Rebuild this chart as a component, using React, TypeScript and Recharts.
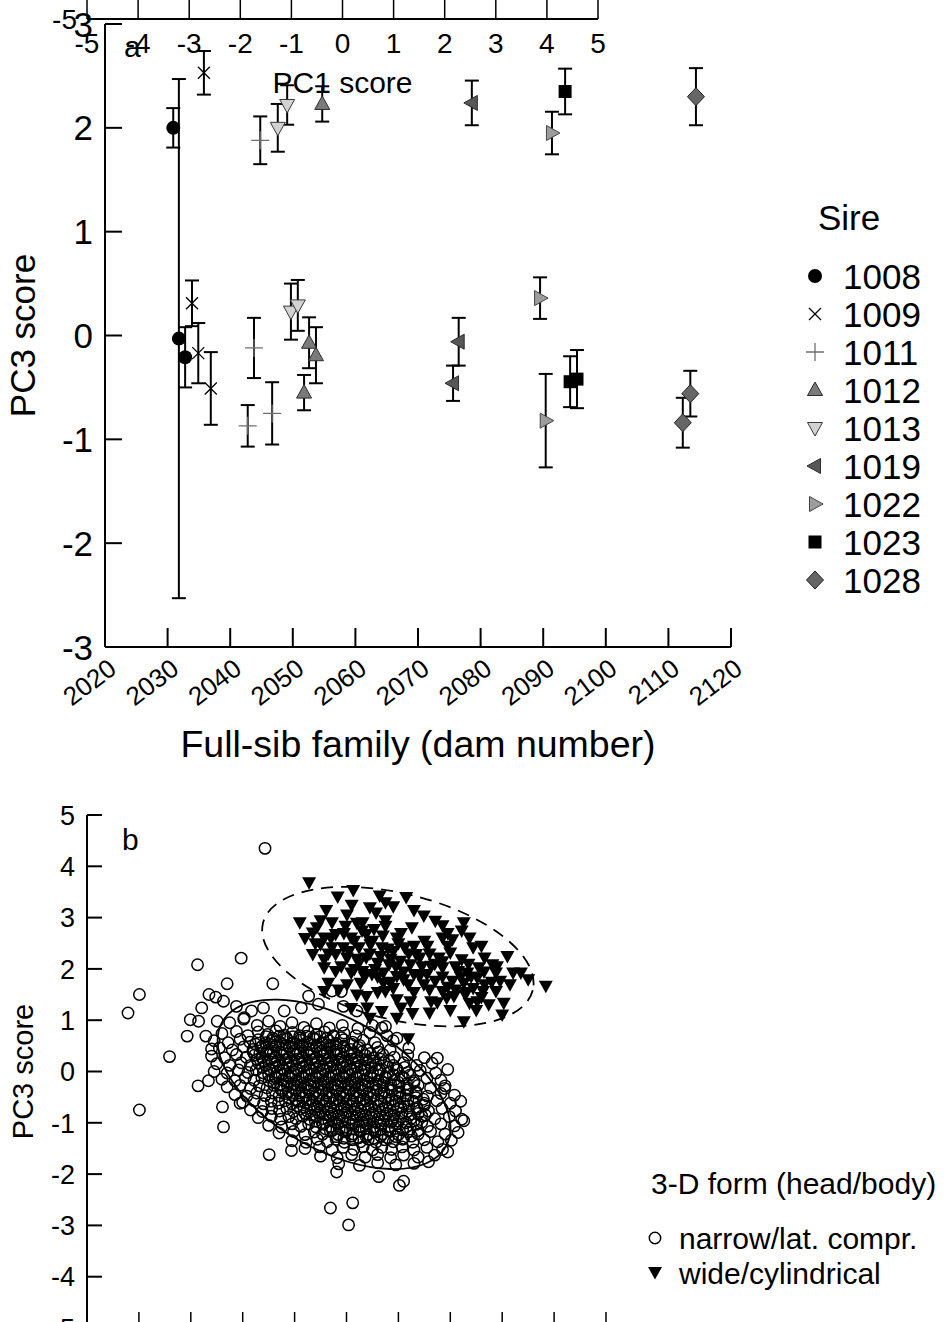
import React from 'react';
import { ScatterChart, Scatter, XAxis, YAxis, ErrorBar, ReferenceDot } from 'recharts';

const FONT = '"Liberation Sans", Arial, Helvetica, sans-serif';
const INK = '#000';

// ---------- panel a: full-sib family means (PC3) with error bars, by sire
const SIRES = ['1008', '1009', '1011', '1012', '1013', '1019', '1022', '1023', '1028'];
const SIRE_MARKS = ['dot', 'cross', 'plus', 'up', 'down', 'left', 'right', 'square', 'diamond'];

const DAM: number[][] = [
  [2030.9, 2031.8, 2032.8],
  [2035.8, 2033.9, 2034.9, 2036.9],
  [2044.8, 2043.8, 2042.8, 2046.7],
  [2054.7, 2052.6, 2053.7, 2051.8],
  [2049.1, 2047.6, 2049.7, 2050.8],
  [2078.6, 2076.5, 2075.6],
  [2091.4, 2089.5, 2090.4],
  [2093.5, 2094.3, 2095.4],
  [2114.4, 2113.5, 2112.3],
];
const PC3: number[][] = [
  [2.0, -0.03, -0.21],
  [2.53, 0.31, -0.17, -0.51],
  [1.88, -0.12, -0.87, -0.75],
  [2.23, -0.07, -0.19, -0.55],
  [2.22, 2.0, 0.23, 0.29],
  [2.24, -0.06, -0.46],
  [1.95, 0.36, -0.82],
  [2.35, -0.445, -0.42],
  [2.3, -0.56, -0.84],
];
const SE: number[][] = [
  [0.19, 2.5, 0.29],
  [0.21, 0.22, 0.29, 0.35],
  [0.23, 0.29, 0.2, 0.3],
  [0.17, 0.245, 0.27, 0.17],
  [0.19, 0.23, 0.27, 0.245],
  [0.215, 0.23, 0.17],
  [0.205, 0.2, 0.45],
  [0.22, 0.245, 0.28],
  [0.275, 0.22, 0.24],
];
const DAM_TICKS = [2020, 2030, 2040, 2050, 2060, 2070, 2080, 2090, 2100, 2110, 2120];
const PC3_TICKS_A = [-3, -2, -1, 0, 1, 2, 3];

// ---------- panel b: individuals, PC1 vs PC3, by 3-D form
const PC1_TICKS = [-5, -4, -3, -2, -1, 0, 1, 2, 3, 4, 5];
const PC3_TICKS_B = [-5, -4, -3, -2, -1, 0, 1, 2, 3, 4, 5];
const NARROW_CENTRE = [-0.24, -0.25];
const WIDE_CENTRE = [0.99, 2.24];

const NARROW_OUTER: [number, number][] = [
  [-1.57, 4.35], [-3.99, 1.5], [-4.21, 1.14], [-2.87, 2.08], [-2.03, 2.21], [-2.3, 1.71], [-1.42, 1.71],
  [-2.65, 1.5], [-2.52, 1.45], [-2.37, 1.37], [-2.12, 1.27], [-2.79, 1.24], [-3.01, 1.01], [-2.85, 0.98],
  [-3.07, 0.69], [-2.71, 0.69], [-2.49, 0.98], [-0.73, 1.47], [-0.54, 1.31], [-0.28, 1.57], [-0.1, 1.56],
  [-0.06, 1.27], [0.2, 1.18], [0.68, 0.85], [0.75, 0.88], [0.97, 0.65], [-1.97, 1.05], [-1.83, 1.18],
  [-1.6, 1.24], [-1.2, 1.18], [-0.87, 1.24], [-3.41, 0.29], [-3.99, -0.75], [-2.86, -0.28], [-2.66, -0.18],
  [-2.6, 0.44], [-2.39, -0.69], [-2.37, -1.08], [-2.05, -0.62], [-1.49, -1.62], [-1.06, -1.54], [-0.19, -1.96],
  [-0.31, -2.66], [0.12, -2.56], [0.04, -2.99], [0.62, -2.05], [1.02, -2.22], [1.1, -2.14], [1.75, 0.26],
  [2.26, -0.96], [1.95, -1.57], [1.89, -0.33],
];

const NARROW_CORE: [number, number][] = [
  [-2.25, 0.95], [-1.98, 1.02], [-1.72, 0.9], [-1.5, 0.98], [-1.28, 0.88], [-1.05, 0.95], [-0.82, 0.86], [-0.58, 0.93], [-0.33, 0.85], [-0.08, 0.9], [0.22, 0.84], [0.5, 0.9],
  [-2.4, 0.74], [-2.12, 0.78], [-1.9, 0.7], [-1.7, 0.77], [-1.52, 0.72], [-1.36, 0.79], [-1.2, 0.71], [-1.04, 0.76], [-0.9, 0.7], [-0.74, 0.78], [-0.58, 0.72], [-0.42, 0.77], [-0.25, 0.7], [-0.05, 0.75], [0.18, 0.7], [0.45, 0.76], [0.78, 0.7],
  [-2.55, 0.6], [-2.28, 0.56], [-2.05, 0.63], [-1.86, 0.57], [-1.7, 0.62], [-1.56, 0.56], [-1.42, 0.61], [-1.28, 0.57], [-1.15, 0.63], [-1.02, 0.56], [-0.89, 0.61], [-0.76, 0.57], [-0.62, 0.63], [-0.48, 0.56], [-0.34, 0.6], [-0.2, 0.55], [-0.05, 0.62], [0.12, 0.57], [0.32, 0.61], [0.55, 0.56], [0.9, 0.6],
  [-2.45, 0.46], [-2.2, 0.42], [-1.98, 0.48], [-1.8, 0.43], [-1.65, 0.47], [-1.51, 0.42], [-1.37, 0.48], [-1.24, 0.43], [-1.11, 0.47], [-0.98, 0.42], [-0.85, 0.48], [-0.72, 0.43], [-0.59, 0.47], [-0.46, 0.41], [-0.33, 0.46], [-0.2, 0.42], [-0.06, 0.48], [0.08, 0.43], [0.23, 0.47], [0.4, 0.42], [0.6, 0.47], [0.84, 0.42], [1.2, 0.46],
  [-2.6, 0.3], [-2.35, 0.27], [-2.12, 0.33], [-1.93, 0.28], [-1.77, 0.32], [-1.63, 0.27], [-1.5, 0.33], [-1.37, 0.28], [-1.24, 0.32], [-1.11, 0.27], [-0.98, 0.33], [-0.85, 0.28], [-0.72, 0.32], [-0.59, 0.26], [-0.46, 0.31], [-0.33, 0.27], [-0.2, 0.33], [-0.07, 0.28], [0.07, 0.32], [0.21, 0.27], [0.36, 0.32], [0.52, 0.27], [0.7, 0.33], [0.92, 0.28], [1.18, 0.32], [1.5, 0.27],
  [-2.5, 0.15], [-2.25, 0.12], [-2.03, 0.17], [-1.85, 0.12], [-1.7, 0.17], [-1.56, 0.12], [-1.43, 0.18], [-1.3, 0.13], [-1.17, 0.17], [-1.04, 0.12], [-0.91, 0.18], [-0.78, 0.13], [-0.65, 0.17], [-0.52, 0.11], [-0.39, 0.16], [-0.26, 0.12], [-0.13, 0.18], [0.0, 0.13], [0.14, 0.17], [0.28, 0.12], [0.42, 0.18], [0.57, 0.13], [0.73, 0.17], [0.9, 0.12], [1.1, 0.17], [1.35, 0.12], [1.65, 0.16],
  [-2.55, 0.0], [-2.3, -0.03], [-2.08, 0.03], [-1.9, -0.02], [-1.74, 0.03], [-1.6, -0.03], [-1.47, 0.02], [-1.34, -0.02], [-1.21, 0.03], [-1.08, -0.03], [-0.95, 0.02], [-0.82, -0.02], [-0.69, 0.03], [-0.56, -0.03], [-0.43, 0.02], [-0.3, -0.02], [-0.17, 0.03], [-0.04, -0.03], [0.09, 0.02], [0.22, -0.02], [0.36, 0.03], [0.5, -0.03], [0.65, 0.02], [0.81, -0.02], [0.98, 0.03], [1.18, -0.02], [1.42, 0.02], [1.72, -0.03], [1.95, 0.04],
  [-2.4, -0.15], [-2.15, -0.18], [-1.95, -0.12], [-1.78, -0.17], [-1.63, -0.12], [-1.49, -0.18], [-1.36, -0.13], [-1.23, -0.17], [-1.1, -0.12], [-0.97, -0.18], [-0.84, -0.13], [-0.71, -0.17], [-0.58, -0.12], [-0.45, -0.18], [-0.32, -0.13], [-0.19, -0.17], [-0.06, -0.12], [0.07, -0.18], [0.2, -0.13], [0.33, -0.17], [0.47, -0.12], [0.61, -0.18], [0.76, -0.13], [0.92, -0.17], [1.1, -0.12], [1.3, -0.18], [1.55, -0.13], [1.82, -0.17],
  [-2.3, -0.3], [-2.05, -0.27], [-1.85, -0.33], [-1.68, -0.28], [-1.53, -0.32], [-1.4, -0.27], [-1.27, -0.33], [-1.14, -0.28], [-1.01, -0.32], [-0.88, -0.27], [-0.75, -0.33], [-0.62, -0.28], [-0.49, -0.32], [-0.36, -0.27], [-0.23, -0.33], [-0.1, -0.28], [0.03, -0.32], [0.16, -0.27], [0.29, -0.33], [0.42, -0.28], [0.56, -0.32], [0.7, -0.27], [0.85, -0.33], [1.01, -0.28], [1.18, -0.32], [1.38, -0.27], [1.62, -0.32], [1.9, -0.28],
  [-2.15, -0.45], [-1.92, -0.48], [-1.73, -0.42], [-1.57, -0.47], [-1.43, -0.42], [-1.3, -0.48], [-1.17, -0.43], [-1.04, -0.47], [-0.91, -0.42], [-0.78, -0.48], [-0.65, -0.43], [-0.52, -0.47], [-0.39, -0.42], [-0.26, -0.48], [-0.13, -0.43], [0.0, -0.47], [0.13, -0.42], [0.26, -0.48], [0.39, -0.43], [0.53, -0.47], [0.67, -0.42], [0.82, -0.48], [0.98, -0.43], [1.15, -0.47], [1.34, -0.42], [1.56, -0.48], [1.82, -0.43], [2.08, -0.46],
  [-2.0, -0.6], [-1.78, -0.57], [-1.6, -0.63], [-1.45, -0.58], [-1.31, -0.62], [-1.18, -0.57], [-1.05, -0.63], [-0.92, -0.58], [-0.79, -0.62], [-0.66, -0.57], [-0.53, -0.63], [-0.4, -0.58], [-0.27, -0.62], [-0.14, -0.57], [-0.01, -0.63], [0.12, -0.58], [0.25, -0.62], [0.38, -0.57], [0.52, -0.63], [0.66, -0.58], [0.8, -0.62], [0.95, -0.57], [1.11, -0.63], [1.29, -0.58], [1.5, -0.62], [1.74, -0.57], [2.0, -0.62], [2.2, -0.58],
  [-1.85, -0.75], [-1.62, -0.78], [-1.44, -0.72], [-1.29, -0.77], [-1.15, -0.72], [-1.02, -0.78], [-0.89, -0.73], [-0.76, -0.77], [-0.63, -0.72], [-0.5, -0.78], [-0.37, -0.73], [-0.24, -0.77], [-0.11, -0.72], [0.02, -0.78], [0.15, -0.73], [0.28, -0.77], [0.42, -0.72], [0.56, -0.78], [0.7, -0.73], [0.85, -0.77], [1.0, -0.72], [1.17, -0.78], [1.36, -0.73], [1.58, -0.77], [1.84, -0.72], [2.1, -0.77],
  [-1.7, -0.9], [-1.45, -0.87], [-1.27, -0.93], [-1.11, -0.88], [-0.97, -0.92], [-0.84, -0.87], [-0.71, -0.93], [-0.58, -0.88], [-0.45, -0.92], [-0.32, -0.87], [-0.19, -0.93], [-0.06, -0.88], [0.07, -0.92], [0.2, -0.87], [0.33, -0.93], [0.47, -0.88], [0.61, -0.92], [0.75, -0.87], [0.9, -0.93], [1.06, -0.88], [1.24, -0.92], [1.45, -0.87], [1.7, -0.92], [1.98, -0.88], [2.22, -0.93],
  [-1.5, -1.05], [-1.25, -1.08], [-1.05, -1.02], [-0.88, -1.07], [-0.73, -1.02], [-0.59, -1.08], [-0.45, -1.03], [-0.31, -1.07], [-0.17, -1.02], [-0.03, -1.08], [0.11, -1.03], [0.25, -1.07], [0.39, -1.02], [0.53, -1.08], [0.67, -1.03], [0.82, -1.07], [0.98, -1.02], [1.15, -1.08], [1.34, -1.03], [1.56, -1.07], [1.82, -1.02], [2.08, -1.06],
  [-1.3, -1.2], [-1.02, -1.17], [-0.8, -1.23], [-0.62, -1.18], [-0.46, -1.22], [-0.31, -1.17], [-0.16, -1.23], [-0.01, -1.18], [0.13, -1.22], [0.27, -1.17], [0.41, -1.23], [0.55, -1.18], [0.69, -1.22], [0.84, -1.17], [1.0, -1.23], [1.18, -1.18], [1.38, -1.22], [1.62, -1.17], [1.9, -1.22], [2.15, -1.19],
  [-1.05, -1.35], [-0.78, -1.38], [-0.56, -1.32], [-0.37, -1.37], [-0.2, -1.32], [-0.04, -1.38], [0.12, -1.33], [0.27, -1.37], [0.42, -1.32], [0.57, -1.38], [0.73, -1.33], [0.9, -1.37], [1.08, -1.32], [1.28, -1.38], [1.5, -1.33], [1.76, -1.37], [2.02, -1.34],
  [-0.8, -1.5], [-0.52, -1.47], [-0.28, -1.53], [-0.06, -1.48], [0.14, -1.52], [0.32, -1.47], [0.5, -1.53], [0.68, -1.48], [0.87, -1.52], [1.07, -1.47], [1.3, -1.53], [1.55, -1.48], [1.85, -1.52],
  [-0.5, -1.65], [-0.18, -1.68], [0.1, -1.62], [0.36, -1.67], [0.6, -1.62], [0.85, -1.68], [1.1, -1.63], [1.38, -1.67], [1.7, -1.63],
  [-0.15, -1.8], [0.25, -1.83], [0.6, -1.78], [0.95, -1.82], [1.3, -1.79], [1.58, -1.76],
];

// the darkest part of the cloud, where the circles pile up
const NARROW_DENSE: [number, number][] = [
  [-1.55, 0.68], [-1.42, 0.65], [-1.29, 0.69], [-1.16, 0.66], [-1.03, 0.68], [-0.9, 0.65], [-0.77, 0.69], [-0.64, 0.66], [-0.51, 0.68], [-0.38, 0.65], [-0.25, 0.68], [-0.1, 0.66],
  [-1.75, 0.53], [-1.62, 0.5], [-1.49, 0.54], [-1.36, 0.51], [-1.23, 0.53], [-1.1, 0.5], [-0.97, 0.54], [-0.84, 0.51], [-0.71, 0.53], [-0.58, 0.5], [-0.45, 0.54], [-0.32, 0.51], [-0.19, 0.53], [-0.05, 0.5], [0.1, 0.53], [0.25, 0.51],
  [-1.8, 0.38], [-1.67, 0.35], [-1.54, 0.39], [-1.41, 0.36], [-1.28, 0.38], [-1.15, 0.35], [-1.02, 0.39], [-0.89, 0.36], [-0.76, 0.38], [-0.63, 0.35], [-0.5, 0.39], [-0.37, 0.36], [-0.24, 0.38], [-0.11, 0.35], [0.02, 0.39], [0.15, 0.36], [0.3, 0.38], [0.46, 0.35], [0.62, 0.38],
  [-1.72, 0.23], [-1.59, 0.2], [-1.46, 0.24], [-1.33, 0.21], [-1.2, 0.23], [-1.07, 0.2], [-0.94, 0.24], [-0.81, 0.21], [-0.68, 0.23], [-0.55, 0.2], [-0.42, 0.24], [-0.29, 0.21], [-0.16, 0.23], [-0.03, 0.2], [0.1, 0.24], [0.23, 0.21], [0.37, 0.23], [0.51, 0.2], [0.66, 0.24], [0.82, 0.21],
  [-1.62, 0.08], [-1.49, 0.05], [-1.36, 0.09], [-1.23, 0.06], [-1.1, 0.08], [-0.97, 0.05], [-0.84, 0.09], [-0.71, 0.06], [-0.58, 0.08], [-0.45, 0.05], [-0.32, 0.09], [-0.19, 0.06], [-0.06, 0.08], [0.07, 0.05], [0.2, 0.09], [0.34, 0.06], [0.48, 0.08], [0.63, 0.05], [0.79, 0.09], [0.96, 0.06], [1.12, 0.08],
  [-1.5, -0.07], [-1.37, -0.1], [-1.24, -0.06], [-1.11, -0.09], [-0.98, -0.07], [-0.85, -0.1], [-0.72, -0.06], [-0.59, -0.09], [-0.46, -0.07], [-0.33, -0.1], [-0.2, -0.06], [-0.07, -0.09], [0.06, -0.07], [0.19, -0.1], [0.32, -0.06], [0.46, -0.09], [0.6, -0.07], [0.75, -0.1], [0.9, -0.06], [1.06, -0.09], [1.22, -0.07],
  [-1.4, -0.22], [-1.27, -0.25], [-1.14, -0.21], [-1.01, -0.24], [-0.88, -0.22], [-0.75, -0.25], [-0.62, -0.21], [-0.49, -0.24], [-0.36, -0.22], [-0.23, -0.25], [-0.1, -0.21], [0.03, -0.24], [0.16, -0.22], [0.29, -0.25], [0.42, -0.21], [0.56, -0.24], [0.7, -0.22], [0.85, -0.25], [1.0, -0.21], [1.16, -0.24], [1.3, -0.22],
  [-1.25, -0.37], [-1.12, -0.4], [-0.99, -0.36], [-0.86, -0.39], [-0.73, -0.37], [-0.6, -0.4], [-0.47, -0.36], [-0.34, -0.39], [-0.21, -0.37], [-0.08, -0.4], [0.05, -0.36], [0.18, -0.39], [0.31, -0.37], [0.44, -0.4], [0.58, -0.36], [0.72, -0.39], [0.87, -0.37], [1.02, -0.4], [1.18, -0.36], [1.34, -0.39],
  [-1.1, -0.52], [-0.97, -0.55], [-0.84, -0.51], [-0.71, -0.54], [-0.58, -0.52], [-0.45, -0.55], [-0.32, -0.51], [-0.19, -0.54], [-0.06, -0.52], [0.07, -0.55], [0.2, -0.51], [0.33, -0.54], [0.46, -0.52], [0.6, -0.55], [0.74, -0.51], [0.88, -0.54], [1.03, -0.52], [1.18, -0.55], [1.34, -0.51], [1.48, -0.54],
  [-0.95, -0.67], [-0.82, -0.7], [-0.69, -0.66], [-0.56, -0.69], [-0.43, -0.67], [-0.3, -0.7], [-0.17, -0.66], [-0.04, -0.69], [0.09, -0.67], [0.22, -0.7], [0.35, -0.66], [0.48, -0.69], [0.62, -0.67], [0.76, -0.7], [0.9, -0.66], [1.05, -0.69], [1.2, -0.67], [1.36, -0.7], [1.5, -0.66],
  [-0.8, -0.82], [-0.67, -0.85], [-0.54, -0.81], [-0.41, -0.84], [-0.28, -0.82], [-0.15, -0.85], [-0.02, -0.81], [0.11, -0.84], [0.24, -0.82], [0.37, -0.85], [0.5, -0.81], [0.64, -0.84], [0.78, -0.82], [0.92, -0.85], [1.07, -0.81], [1.22, -0.84], [1.38, -0.82], [1.52, -0.85],
  [-0.6, -0.97], [-0.47, -1.0], [-0.34, -0.96], [-0.21, -0.99], [-0.08, -0.97], [0.05, -1.0], [0.18, -0.96], [0.31, -0.99], [0.44, -0.97], [0.58, -1.0], [0.72, -0.96], [0.86, -0.99], [1.0, -0.97], [1.15, -1.0], [1.3, -0.96], [1.45, -0.99],
  [-0.4, -1.12], [-0.27, -1.15], [-0.14, -1.11], [-0.01, -1.14], [0.12, -1.12], [0.25, -1.15], [0.38, -1.11], [0.52, -1.14], [0.66, -1.12], [0.8, -1.15], [0.94, -1.11], [1.08, -1.14], [1.23, -1.12], [1.38, -1.15],
  [-0.2, -1.27], [-0.05, -1.3], [0.1, -1.26], [0.24, -1.29], [0.38, -1.27], [0.52, -1.3], [0.66, -1.26], [0.8, -1.29], [0.95, -1.27], [1.1, -1.3], [1.25, -1.26],
];

const WIDE: [number, number][] = [
  [-0.72, 3.69], [0.13, 3.54], [-0.17, 3.41], [0.64, 3.43], [1.15, 3.4], [0.9, 3.22], [-0.39, 3.15], [0.01, 3.06],
  [0.57, 3.1], [1.49, 3.04], [1.71, 2.94], [2.26, 2.91], [-0.9, 2.91], [-0.57, 2.81], [-0.28, 2.91], [-0.02, 2.84],
  [0.31, 2.91], [0.53, 2.78], [0.75, 2.84], [1.26, 2.81], [1.85, 2.61], [2.04, 2.58], [2.22, 2.75], [2.37, 2.61],
  [-0.65, 2.71], [-0.43, 2.61], [-0.21, 2.68], [0.09, 2.61], [0.38, 2.68], [0.97, 2.61], [1.56, 2.45], [2.44, 2.42],
  [2.66, 2.22], [3.1, 2.25], [2.81, 2.09], [3.21, 1.93], [3.36, 1.93], [3.84, 1.67], [-0.5, 2.48], [-0.28, 2.42],
  [-0.06, 2.42], [0.24, 2.42], [0.46, 2.48], [0.68, 2.42], [0.9, 2.35], [1.12, 2.42], [1.34, 2.29], [1.41, 2.22],
  [1.78, 2.22], [2.0, 2.32], [2.22, 2.19], [2.55, 2.03], [2.88, 1.93], [2.96, 1.77], [-0.65, 2.29], [-0.43, 2.19],
  [-0.21, 2.29], [0.01, 2.22], [0.24, 2.12], [0.38, 2.22], [0.6, 2.12], [0.82, 2.09], [1.04, 2.16], [1.23, 2.09],
  [1.63, 2.06], [1.85, 2.03], [2.15, 1.96], [2.33, 1.93], [2.52, 1.83], [2.66, 1.7], [-0.43, 2.03], [-0.21, 1.96],
  [0.09, 1.93], [0.31, 1.96], [0.49, 1.9], [0.71, 1.93], [0.97, 1.86], [1.41, 1.86], [1.71, 1.77], [2.04, 1.77],
  [2.26, 1.73], [2.44, 1.63], [2.63, 1.57], [2.88, 1.57], [-0.35, 1.73], [0.01, 1.7], [0.27, 1.73], [0.71, 1.73],
  [0.9, 1.63], [1.19, 1.7], [1.49, 1.7], [1.85, 1.57], [2.07, 1.47], [2.29, 1.5], [2.52, 1.37], [2.74, 1.31],
  [3.03, 1.34], [3.0, 1.11], [-0.43, 1.57], [0.2, 1.5], [0.38, 1.47], [0.75, 1.57], [0.97, 1.41], [1.23, 1.37],
  [1.63, 1.37], [1.93, 1.44], [2.37, 1.34], [1.27, 1.14], [2.26, 0.98], [0.68, 1.18], [0.97, 1.05], [1.19, 0.65],
  [0.09, 1.24], [0.15, 2.55], [0.45, 2.3], [0.7, 2.65], [1.0, 2.5], [1.2, 2.3], [0.55, 2.0], [-0.1, 2.05],
  [0.3, 2.75], [-0.35, 2.3], [0.85, 2.2], [1.5, 2.55], [1.7, 2.1], [1.95, 2.45], [2.1, 1.6], [2.4, 1.85],
  [2.65, 1.95], [1.3, 1.55], [0.6, 1.55], [-0.15, 1.6], [0.4, 1.25], [2.0, 1.2], [2.5, 1.2], [1.6, 1.15],
  [0.2, 2.9], [-0.6, 2.5], [1.85, 2.85], [2.8, 1.75], [0.05, 2.35], [1.1, 1.95], [0.75, 2.95],
  [-0.05, 2.7], [0.2, 2.2], [0.5, 2.55], [0.8, 2.4], [1.05, 2.7], [1.3, 2.45], [1.6, 2.3], [1.85, 2.15],
  [2.1, 2.05], [2.35, 2.1], [0.35, 1.85], [0.6, 1.85], [0.85, 1.75], [1.1, 1.8], [1.3, 1.9], [1.55, 1.9],
  [1.85, 1.85], [2.2, 1.85], [0.15, 2.0], [0.65, 2.25], [0.95, 2.05], [1.45, 2.05], [1.6, 1.6], [1.95, 1.65],
  [2.3, 1.55], [2.6, 1.45], [-0.5, 2.95], [0.45, 3.2], [1.3, 3.15], [-0.3, 2.6], [-0.8, 2.6], [0.1, 3.25],
  [0.75, 3.3], [1.95, 2.7], [2.6, 2.45], [2.9, 2.05], [3.15, 1.7], [3.5, 1.8], [1.05, 1.25], [0.45, 1.05],
  [1.75, 1.35],
];

const toXY = (pts: [number, number][]) => pts.map(([x, y]) => ({ x, y }));

function Marker({ kind, cx, cy }: { kind: string; cx: number; cy: number }) {
  switch (kind) {
    case 'dot':
      return <circle cx={cx} cy={cy} r={7} fill={INK} />;
    case 'cross':
      return <path d={`M${cx - 6},${cy - 6}L${cx + 6},${cy + 6}M${cx - 6},${cy + 6}L${cx + 6},${cy - 6}`} stroke={INK} strokeWidth={1.3} />;
    case 'plus':
      return <path d={`M${cx - 9},${cy}H${cx + 9}M${cx},${cy - 9}V${cy + 9}`} stroke="#6f6f6f" strokeWidth={1.3} />;
    case 'up':
      return <polygon points={`${cx},${cy - 8} ${cx + 7.5},${cy + 5.5} ${cx - 7.5},${cy + 5.5}`} fill="#7a7a7a" stroke="#2b2b2b" strokeWidth={1} />;
    case 'down':
      return <polygon points={`${cx - 7.5},${cy - 5.5} ${cx + 7.5},${cy - 5.5} ${cx},${cy + 8}`} fill="#d2d2d2" stroke="#3a3a3a" strokeWidth={1} />;
    case 'left':
      return <polygon points={`${cx - 8},${cy} ${cx + 5.5},${cy - 7.5} ${cx + 5.5},${cy + 7.5}`} fill="#575757" stroke="#2b2b2b" strokeWidth={1} />;
    case 'right':
      return <polygon points={`${cx + 8},${cy} ${cx - 5.5},${cy - 7.5} ${cx - 5.5},${cy + 7.5}`} fill="#9c9c9c" stroke="#444" strokeWidth={1} />;
    case 'square':
      return <rect x={cx - 6.5} y={cy - 6.5} width={13} height={13} fill={INK} />;
    case 'diamond':
      return <polygon points={`${cx},${cy - 9} ${cx + 8.5},${cy} ${cx},${cy + 9} ${cx - 8.5},${cy}`} fill="#666" stroke="#222" strokeWidth={1} />;
    case 'ring':
      return <circle cx={cx} cy={cy} r={5.7} fill="none" stroke={INK} strokeWidth={1.5} />;
    case 'tri':
      return <polygon points={`${cx - 7},${cy - 5} ${cx + 7},${cy - 5} ${cx},${cy + 7.5}`} fill={INK} />;
    default:
      return null;
  }
}

// y ticks pointing into the plot, label on the left
const leftTick = (len: number, gap: number, size: number, showLine = true) => (p: any) => (
  <g>
    {showLine && <line x1={p.x} x2={p.x + len} y1={p.y} y2={p.y} stroke={INK} strokeWidth={2} />}
    <text x={p.x - gap} y={p.y} dy="0.36em" textAnchor="end" fontSize={size} fontFamily={FONT} fill={INK}>
      {p.payload.value}
    </text>
  </g>
);

const damTick = (p: any) => (
  <g>
    <line x1={p.x} x2={p.x} y1={p.y} y2={p.y - 19} stroke={INK} strokeWidth={2} />
    <text transform={`translate(${p.x + 13},${p.y + 25}) rotate(-37)`} textAnchor="end" fontSize={26} fontFamily={FONT} fill={INK}>
      {p.payload.value}
    </text>
  </g>
);

const upTick = (len: number) => (p: any) => (
  <line x1={p.x} x2={p.x} y1={p.y} y2={p.y - len} stroke={INK} strokeWidth={1.5} />
);

const topTick = (p: any) => (
  <g>
    <line x1={p.x} x2={p.x} y1={p.y} y2={p.y - 19} stroke={INK} strokeWidth={1.5} />
    <text x={p.x} y={p.y + 34} textAnchor="middle" fontSize={28} fontFamily={FONT} fill={INK}>
      {p.payload.value}
    </text>
  </g>
);

const ellipseShape = (rx: number, ry: number, angle: number, dash?: string) => (p: any) => (
  <ellipse
    cx={p.cx}
    cy={p.cy}
    rx={rx}
    ry={ry}
    transform={`rotate(${angle} ${p.cx} ${p.cy})`}
    fill="none"
    stroke={INK}
    strokeWidth={1.8}
    strokeDasharray={dash}
  />
);

const axisLine = { stroke: INK, strokeWidth: 2 };

const PanelA = () => {
  const series = SIRES.map((_, i) =>
    DAM[i].map((d, j) => ({ dam: d, pc3: PC3[i][j], se: SE[i][j] }))
  );
  return (
    <ScatterChart width={944} height={780} margin={{ top: 24, right: 213, bottom: 0, left: 0 }}>
      <XAxis
        type="number"
        dataKey="dam"
        domain={[2020, 2120]}
        ticks={DAM_TICKS}
        interval={0}
        allowDataOverflow
        height={133}
        tickSize={0}
        tickMargin={0}
        tickLine={false}
        tick={damTick}
        axisLine={axisLine}
        label={(p: any) => (
          <text x={p.viewBox.x + p.viewBox.width / 2} y={p.viewBox.y + 110} textAnchor="middle" fontSize={37.5} fontFamily={FONT} fill={INK}>
            Full-sib family (dam number)
          </text>
        )}
      />
      <YAxis
        type="number"
        dataKey="pc3"
        domain={[-3, 3]}
        ticks={PC3_TICKS_A}
        interval={0}
        allowDataOverflow
        width={105}
        tickSize={0}
        tickMargin={0}
        tickLine={false}
        tick={leftTick(17, 12, 35)}
        axisLine={axisLine}
        label={(p: any) => (
          <text transform={`translate(35,${p.viewBox.y + p.viewBox.height / 2}) rotate(-90)`} textAnchor="middle" fontSize={35} fontFamily={FONT} fill={INK}>
            PC3 score
          </text>
        )}
      />
      {series.map((data, i) => (
        <Scatter
          key={SIRES[i]}
          name={SIRES[i]}
          data={data}
          isAnimationActive={false}
          shape={(p: any) => <Marker kind={SIRE_MARKS[i]} cx={p.cx} cy={p.cy} />}
        >
          <ErrorBar dataKey="se" direction="y" width={7} stroke={INK} strokeWidth={2} />
        </Scatter>
      ))}
    </ScatterChart>
  );
};

// the PC1 axis of panel b, which sits at the very top of the figure
const Pc1Strip = () => (
  <ScatterChart width={944} height={120} margin={{ top: 0, right: 346, bottom: 0, left: 0 }}>
    <XAxis
      type="number"
      dataKey="x"
      domain={[-5, 5]}
      ticks={PC1_TICKS}
      interval={0}
      allowDataOverflow
      height={101}
      tickSize={0}
      tickMargin={0}
      tickLine={false}
      tick={topTick}
      axisLine={axisLine}
      label={(p: any) => (
        <text x={p.viewBox.x + p.viewBox.width / 2} y={p.viewBox.y + 74} textAnchor="middle" fontSize={30} fontFamily={FONT} fill={INK}>
          PC1 score
        </text>
      )}
    />
    <YAxis
      type="number"
      dataKey="y"
      domain={[-5, -4.6]}
      ticks={[-5]}
      allowDataOverflow
      width={87}
      tickSize={0}
      tickMargin={0}
      tickLine={false}
      axisLine={false}
      tick={leftTick(0, 10, 28, false)}
    />
    <Scatter data={[]} isAnimationActive={false} />
  </ScatterChart>
);

const PanelB = () => (
  <ScatterChart width={944} height={588} margin={{ top: 35, right: 338, bottom: 0, left: 0 }}>
    <XAxis
      type="number"
      dataKey="x"
      domain={[-5, 5]}
      ticks={PC1_TICKS}
      interval={0}
      allowDataOverflow
      height={40}
      tickSize={0}
      tickMargin={0}
      tickLine={false}
      tick={upTick(16)}
      axisLine={axisLine}
    />
    <YAxis
      type="number"
      dataKey="y"
      domain={[-5, 5]}
      ticks={PC3_TICKS_B}
      interval={0}
      allowDataOverflow
      width={87}
      tickSize={0}
      tickMargin={0}
      tickLine={false}
      tick={leftTick(15, 12, 27)}
      axisLine={axisLine}
      label={(p: any) => (
        <text transform={`translate(33,${p.viewBox.y + p.viewBox.height / 2}) rotate(-90)`} textAnchor="middle" fontSize={29} fontFamily={FONT} fill={INK}>
          PC3 score
        </text>
      )}
    />
    <Scatter name="narrow/lat. compr." data={toXY(NARROW_OUTER)} isAnimationActive={false} shape={(p: any) => <Marker kind="ring" cx={p.cx} cy={p.cy} />} />
    <Scatter data={toXY(NARROW_CORE)} isAnimationActive={false} shape={(p: any) => <Marker kind="ring" cx={p.cx} cy={p.cy} />} />
    <Scatter data={toXY(NARROW_DENSE)} isAnimationActive={false} shape={(p: any) => <Marker kind="ring" cx={p.cx} cy={p.cy} />} />
    <Scatter name="wide/cylindrical" data={toXY(WIDE)} isAnimationActive={false} shape={(p: any) => <Marker kind="tri" cx={p.cx} cy={p.cy} />} />
    <ReferenceDot x={NARROW_CENTRE[0]} y={NARROW_CENTRE[1]} shape={ellipseShape(128, 66, 29)} />
    <ReferenceDot x={WIDE_CENTRE[0]} y={WIDE_CENTRE[1]} shape={ellipseShape(139, 63, 14, '12 8')} />
  </ScatterChart>
);

const Legends = () => (
  <svg width={944} height={1322} style={{ position: 'absolute', left: 0, top: 0, pointerEvents: 'none' }} fontFamily={FONT}>
    <text x={124} y={57} fontSize={30} fill={INK}>a</text>
    <text x={122} y={850} fontSize={30} fill={INK}>b</text>

    <text x={818} y={230} fontSize={35} fill={INK}>Sire</text>
    {SIRES.map((s, i) => {
      const cy = 276 + i * 38;
      return (
        <g key={s}>
          <Marker kind={SIRE_MARKS[i]} cx={815} cy={cy} />
          <text x={843} y={cy} dy="0.36em" fontSize={35} fill={INK}>{s}</text>
        </g>
      );
    })}

    <text x={651} y={1183} dy="0.36em" fontSize={30} fill={INK}>3-D form (head/body)</text>
    <Marker kind="ring" cx={655} cy={1238} />
    <text x={679} y={1238} dy="0.36em" fontSize={30} fill={INK}>narrow/lat. compr.</text>
    <Marker kind="tri" cx={655} cy={1272} />
    <text x={679} y={1273} dy="0.36em" fontSize={30} fill={INK}>wide/cylindrical</text>
  </svg>
);

export default function App() {
  return (
    <div style={{ position: 'absolute', left: 0, top: 0, width: 944, height: 1322, overflow: 'hidden', background: '#fff' }}>
      <div style={{ position: 'absolute', left: 0, top: 780 }}>
        <PanelB />
      </div>
      <div style={{ position: 'absolute', left: 0, top: 0 }}>
        <PanelA />
      </div>
      <div style={{ position: 'absolute', left: 0, top: 0 }}>
        <Pc1Strip />
      </div>
      <Legends />
    </div>
  );
}
